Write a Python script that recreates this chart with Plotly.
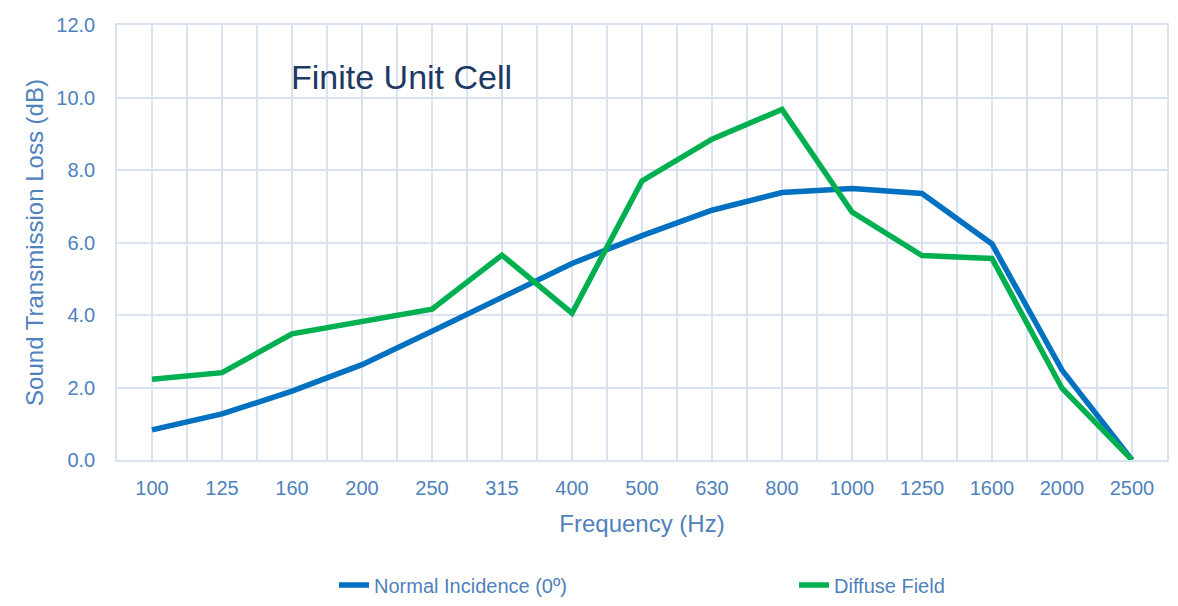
import plotly.graph_objects as go

frequencies = ["100", "125", "160", "200", "250", "315", "400", "500", "630",
               "800", "1000", "1250", "1600", "2000", "2500"]
normal_incidence = [0.83, 1.27, 1.90, 2.63, 3.55, 4.47, 5.42, 6.19, 6.89,
                    7.38, 7.49, 7.35, 5.96, 2.48, 0.0]
diffuse_field = [2.23, 2.41, 3.48, 3.83, 4.16, 5.65, 4.05, 7.70, 8.85,
                 9.67, 6.84, 5.64, 5.56, 1.98, 0.0]
y_ticks = [0, 2, 4, 6, 8, 10, 12]
y_tick_labels = ["0.0", "2.0", "4.0", "6.0", "8.0", "10.0", "12.0"]

x_idx = list(range(len(frequencies)))

FONT = "Liberation Sans, Arial, sans-serif"
TXT = "#4F81BD"
GRID = "#D9E2F1"

fig = go.Figure()
fig.add_trace(go.Scatter(x=x_idx, y=normal_incidence, mode="lines",
                         name="Normal Incidence (0º)", legend="legend",
                         line=dict(color="#0070C0", width=5.5)))
fig.add_trace(go.Scatter(x=x_idx, y=diffuse_field, mode="lines",
                         name="Diffuse Field", legend="legend2",
                         line=dict(color="#00B050", width=5.5)))

leg_font = dict(family=FONT, size=20, color=TXT)
fig.update_layout(
    width=1178, height=606,
    margin=dict(l=109, r=19, t=17, b=154, autoexpand=False),
    paper_bgcolor="white", plot_bgcolor="white",
    font=dict(family=FONT, color=TXT, size=20),
    showlegend=True,
    legend=dict(orientation="h", xref="container", yref="container",
                x=326 / 1178, xanchor="left", y=1 - 577 / 606, yanchor="middle",
                font=leg_font, bgcolor="rgba(0,0,0,0)"),
    legend2=dict(orientation="h", xref="container", yref="container",
                 x=786 / 1178, xanchor="left", y=1 - 577 / 606, yanchor="middle",
                 font=leg_font, bgcolor="rgba(0,0,0,0)"),
    annotations=[dict(text="Finite Unit Cell", xref="paper", yref="paper",
                      x=0.1638, y=0.8805, xanchor="left", yanchor="middle",
                      showarrow=False,
                      font=dict(family=FONT, size=34, color="#203864"))],
)

fig.update_xaxes(
    range=[-0.5, len(frequencies) - 0.5], automargin=False,
    tickmode="array", tickvals=x_idx, ticktext=frequencies,
    showgrid=True, gridcolor=GRID, gridwidth=1.5,
    minor=dict(showgrid=True, gridcolor=GRID, gridwidth=1.5, tick0=-0.5, dtick=1),
    zeroline=False, showline=True, linecolor=GRID, linewidth=1.5, mirror=True,
    ticks="", ticklabelstandoff=9,
    tickfont=dict(family=FONT, size=20, color=TXT),
    title=dict(text="Frequency (Hz)", standoff=17,
               font=dict(family=FONT, size=24, color=TXT)),
)
fig.update_yaxes(
    range=[0, 12], automargin=False,
    tickmode="array", tickvals=y_ticks, ticktext=y_tick_labels,
    showgrid=True, gridcolor=GRID, gridwidth=1.5,
    zeroline=False, showline=True, linecolor=GRID, linewidth=1.5, mirror=True,
    ticks="", ticklabelstandoff=16,
    tickfont=dict(family=FONT, size=20, color=TXT),
    title=dict(text="Sound Transmission Loss (dB)", standoff=6,
               font=dict(family=FONT, size=24, color=TXT)),
)

fig.write_html("out.html")
